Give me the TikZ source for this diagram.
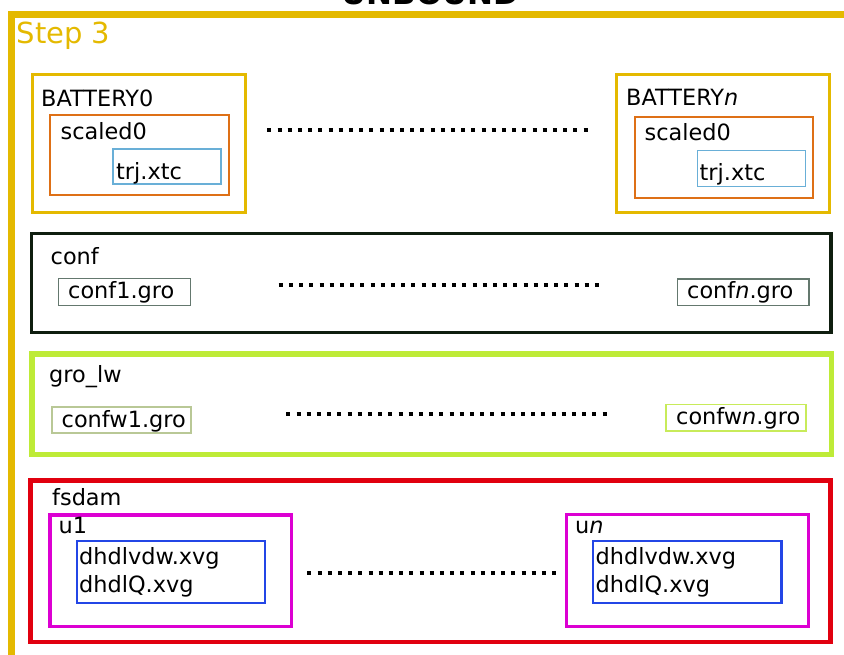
\documentclass[tikz,border=0pt]{standalone}
\usepackage{fontspec}
\setmainfont{DejaVu Sans}
\definecolor{yel}{RGB}{228,185,0}
\definecolor{org}{RGB}{222,112,22}
\definecolor{lblue}{RGB}{105,175,215}
\definecolor{cblack}{RGB}{15,30,15}
\definecolor{cgray}{RGB}{100,120,110}
\definecolor{lime}{RGB}{190,235,55}
\definecolor{olive}{RGB}{185,200,150}
\definecolor{limelt}{RGB}{200,235,90}
\definecolor{rred}{RGB}{225,0,15}
\definecolor{mag}{RGB}{220,0,210}
\definecolor{bblue}{RGB}{35,70,230}
\begin{document}
\begin{tikzpicture}[x=1pt,y=-1pt,
  lbl/.style={anchor=base west,inner sep=0pt,font=\fontsize{22.4}{26}\selectfont},
  dotrow/.style={line width=4pt,dash pattern=on 4pt off 6.2pt},
  battbox/.style={draw=yel,line width=3pt},
  scalbox/.style={draw=org,line width=2pt},
  trjbox/.style={draw=lblue,line width=1.3pt},
  confbox/.style={draw=cblack,line width=3.2pt},
  cfile/.style={draw=cgray,line width=1.2pt},
  lwbox/.style={draw=lime,line width=5.5pt},
  fsbox/.style={draw=rred,line width=4.4pt},
  ubox/.style={draw=mag,line width=3.3pt},
  xvgbox/.style={draw=bblue,line width=2.2pt}]
\useasboundingbox (0,0) rectangle (844,654);
\node[anchor=base,inner sep=0pt,font=\bfseries\fontsize{31}{36}\selectfont] (title) at (430.5,4.5) {UNBOUND};
\draw[yel,line width=7pt] (11,680) -- (11,14) -- (870,14);
\node[lbl,font=\fontsize{29}{34}\selectfont,text=yel] (step) at (16.5,43.5) {Step 3};

% BATTERY0
\draw[battbox] (32.5,74) rectangle (245.5,212);
\draw[scalbox] (50.3,115.2) rectangle (229,195);
\draw[trjbox] (113,149) rectangle (221,184);
\node[lbl] (b0) at (41,106) {BATTERY0};
\node[lbl] (s0) at (60.5,139) {scaled0};
\node[lbl] (t0) at (116,179) {trj.xtc};

% BATTERYn
\draw[battbox] (616.7,74.7) rectangle (829.7,212);
\draw[scalbox] (635.2,117) rectangle (813,197.5);
\draw[trjbox] (697.8,150.5) rectangle (805.5,186.5);
\node[lbl] (bn) at (626,105.7) {BATTERY\textit{n}};
\node[lbl] (sn) at (644.5,140) {scaled0};
\node[lbl] (tn) at (699.5,180) {trj.xtc};

\draw[dotrow] (267.3,130) -- (590,130);

% conf
\draw[confbox] (31.7,233.7) rectangle (831,332.7);
\node[lbl] (conf) at (50.5,264) {conf};
\draw[cfile] (58.8,278.8) rectangle (190.5,305.5);
\node[lbl] (c1) at (68,298.3) {conf1.gro};
\draw[cfile] (677.3,279) rectangle (809,305.7);
\node[lbl] (cn) at (687,298) {conf\textit{n}.gro};
\draw[dotrow] (278.7,285) -- (600,285);

% gro_lw
\draw[lwbox] (32,354) rectangle (831.7,454.5);
\node[lbl] (lw) at (49,382.7) {gro\_lw};
\draw[draw=olive,line width=1.5pt] (51.8,407.2) rectangle (191.2,432.8);
\node[lbl] (w1) at (61.5,427.3) {confw1.gro};
\draw[draw=limelt,line width=1.5pt] (666,404.5) rectangle (806,431);
\node[lbl] (wn) at (676,424) {confw\textit{n}.gro};
\draw[dotrow] (286.3,414) -- (608,414);

% fsdam
\draw[fsbox] (30.5,480.5) rectangle (830.5,642);
\node[lbl] (fs) at (52,505) {fsdam};
\draw[ubox] (50,515) rectangle (291.7,626.7);
\node[lbl] (u1) at (58.5,533.3) {u1};
\draw[xvgbox] (77.2,541) rectangle (265,603);
\node[lbl] (v1) at (79,564.3) {dhdlvdw.xvg};
\node[lbl] (q1) at (79,592.7) {dhdlQ.xvg};
\draw[ubox] (566.3,514.5) rectangle (808.8,626.3);
\node[lbl] (un) at (575,533) {u\textit{n}};
\draw[xvgbox] (593.2,540.8) rectangle (781.5,603.2);
\node[lbl] (vn) at (595.5,564.3) {dhdlvdw.xvg};
\node[lbl] (qn) at (595.5,592.7) {dhdlQ.xvg};
\draw[dotrow] (307.3,573) -- (556,573);
\end{tikzpicture}
\end{document}
